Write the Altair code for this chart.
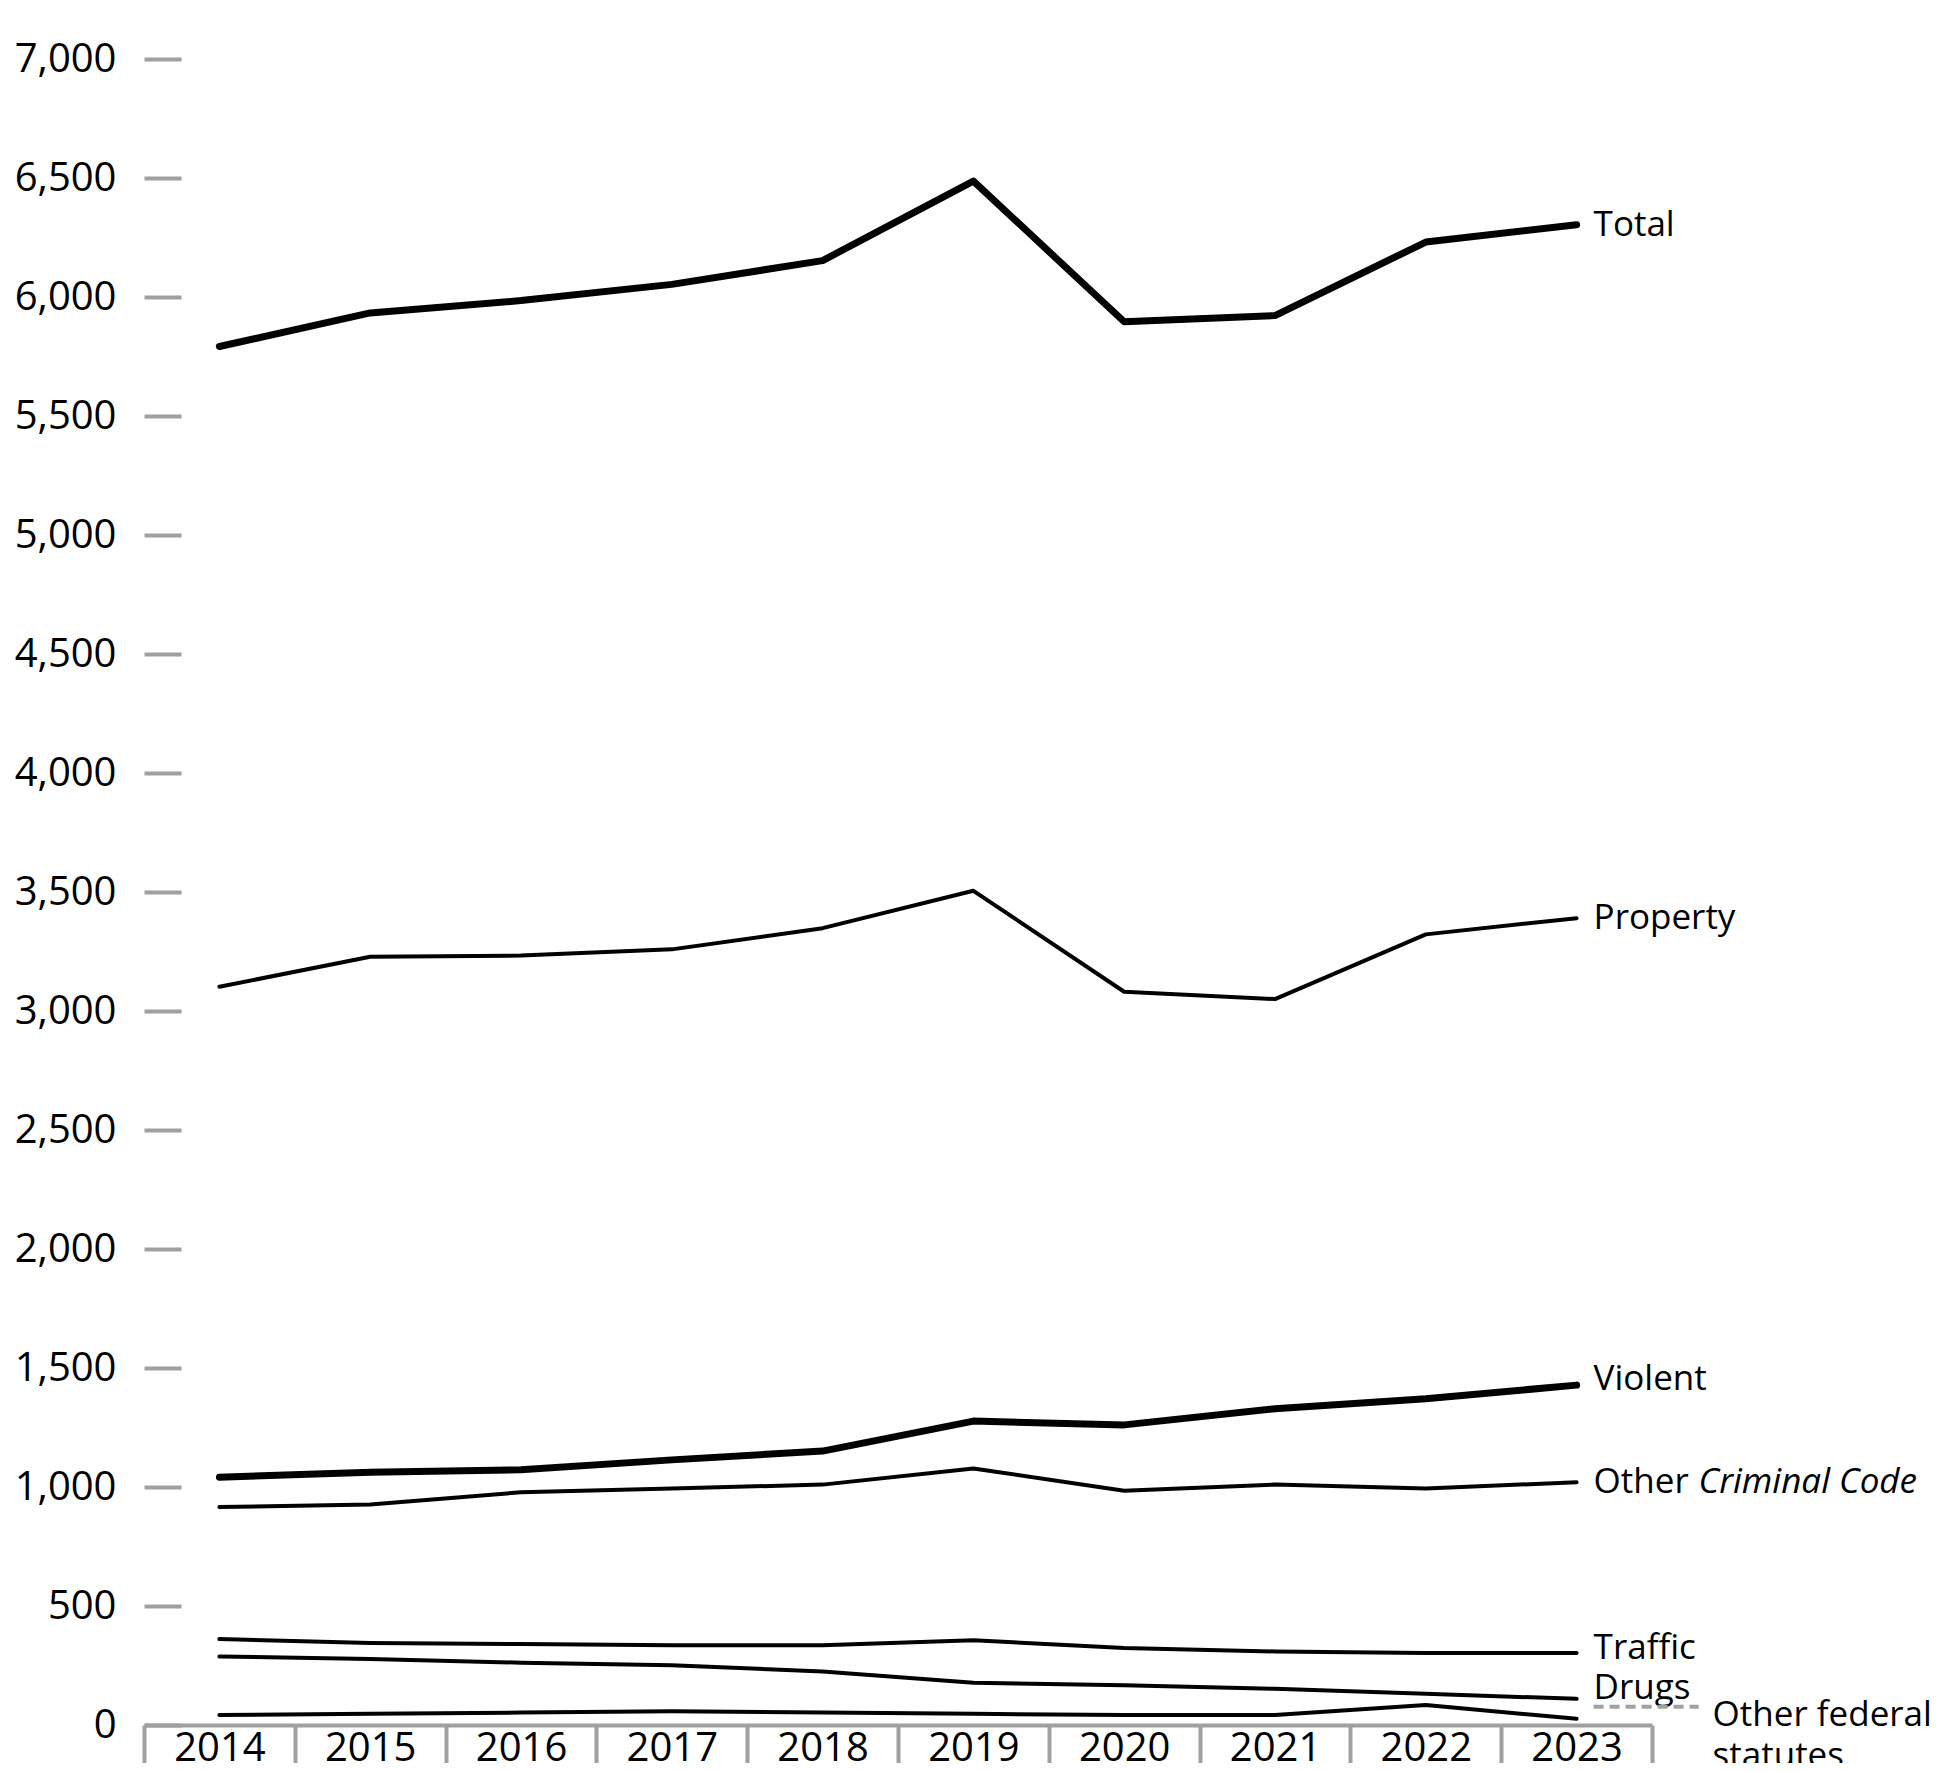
import altair as alt
import pandas as pd

years = [str(y) for y in range(2014, 2024)]
total = [5792, 5933, 5985, 6053, 6153, 6487, 5896, 5922, 6231, 6304]
property_ = [3102, 3228, 3233, 3259, 3348, 3505, 3081, 3050, 3322, 3390]
violent = [1041, 1062, 1072, 1114, 1151, 1277, 1261, 1329, 1371, 1428]
other_cc = [916, 926, 978, 994, 1010, 1078, 984, 1010, 994, 1020]
traffic = [361, 345, 340, 335, 335, 356, 324, 309, 303, 303]
drugs = [288, 277, 262, 251, 225, 178, 167, 152, 131, 110]
other_fed = [42, 47, 52, 58, 52, 47, 42, 42, 84, 26]

series = {
    "Total": total,
    "Property": property_,
    "Violent": violent,
    "Other Criminal Code": other_cc,
    "Traffic": traffic,
    "Drugs": drugs,
    "Other federal statutes": other_fed,
}
thick = ["Total", "Violent"]

rows = []
for name, vals in series.items():
    for y, v in zip(years, vals):
        rows.append({"series": name, "year": y, "value": v, "thick": name in thick})
df = pd.DataFrame(rows)

FONT = "Open Sans"
GRAY = "#A0A0A0"

xenc = alt.X(
    "year:O",
    bandPosition=0.5,
    scale=alt.Scale(type="band", domain=years, paddingInner=0, paddingOuter=0),
    axis=alt.Axis(
        title=None, labelAngle=0, tickBand="extent", tickSize=60, tickWidth=4,
        tickColor=GRAY, domainColor=GRAY, domainWidth=4, labelPadding=-57,
        labelFont=FONT, labelFontSize=40, labelColor="#000000",
    ),
)
yenc = alt.Y(
    "value:Q",
    scale=alt.Scale(domain=[0, 7000], nice=False),
    axis=alt.Axis(
        title=None, values=list(range(0, 7001, 500)), format=",.0f", grid=False,
        domain=False, tickSize=37, tickWidth=4, tickColor=GRAY, offset=-37,
        labelPadding=28, labelFont=FONT, labelFontSize=40, labelColor="#000000",
    ),
)

base = alt.Chart(df)
thin_lines = base.transform_filter("!datum.thick").mark_line(
    color="#000000", strokeWidth=4, strokeCap="round", strokeJoin="round"
).encode(x=xenc, y=yenc, detail="series:N")
thick_lines = base.transform_filter("datum.thick").mark_line(
    color="#000000", strokeWidth=7, strokeCap="round", strokeJoin="round"
).encode(x=xenc, y=yenc, detail="series:N")

last = df[df["year"] == "2023"].set_index("series")

label_specs = [
    ("Total", "Total", 17, 0, "normal"),
    ("Property", "Property", 17, 0, "normal"),
    ("Violent", "Violent", 17, -6, "normal"),
    ("Other Criminal Code", "Other", 17, 0, "normal"),
    ("Other Criminal Code", "Criminal Code", 122, 0, "italic"),
    ("Traffic", "Traffic", 17, -5, "normal"),
    ("Drugs", "Drugs", 17, -11, "normal"),
    ("Other federal statutes", "Other federal", 136, -4, "normal"),
    ("Other federal statutes", "statutes", 136, 37, "normal"),
]

layers = [thin_lines, thick_lines]
xl = alt.X("year:O", bandPosition=0.5)
yl = alt.Y("value:Q")
for sname, text, dx, dy, style in label_specs:
    d = pd.DataFrame([{"year": "2023", "value": int(last.loc[sname, "value"]), "t": text}])
    layers.append(
        alt.Chart(d).mark_text(
            align="left", baseline="middle", dx=dx, dy=dy, font=FONT,
            fontSize=35, fontStyle=style, color="#000000"
        ).encode(x=xl, y=yl, text="t:N")
    )

dash_df = pd.DataFrame([{"year": "2023", "value": other_fed[-1]}])
dash = alt.Chart(dash_df).mark_rule(
    color=GRAY, strokeWidth=4, strokeDash=[10, 6], xOffset=17, x2Offset=122,
    yOffset=-12, y2Offset=-12
).encode(x=alt.X("year:O", bandPosition=0.5), x2=alt.X2("year"), y="value:Q")
layers.append(dash)

chart = alt.layer(*layers).properties(
    width=1508, height=1666,
    autosize=alt.AutoSizeParams(type="none"),
    padding={"left": 136, "top": 51, "right": 290, "bottom": 38},
).configure(
    background="white",
    view=alt.ViewConfig(stroke="transparent", strokeWidth=0),
)

chart.save("out.html", embed_options={"renderer": "svg", "actions": False})
